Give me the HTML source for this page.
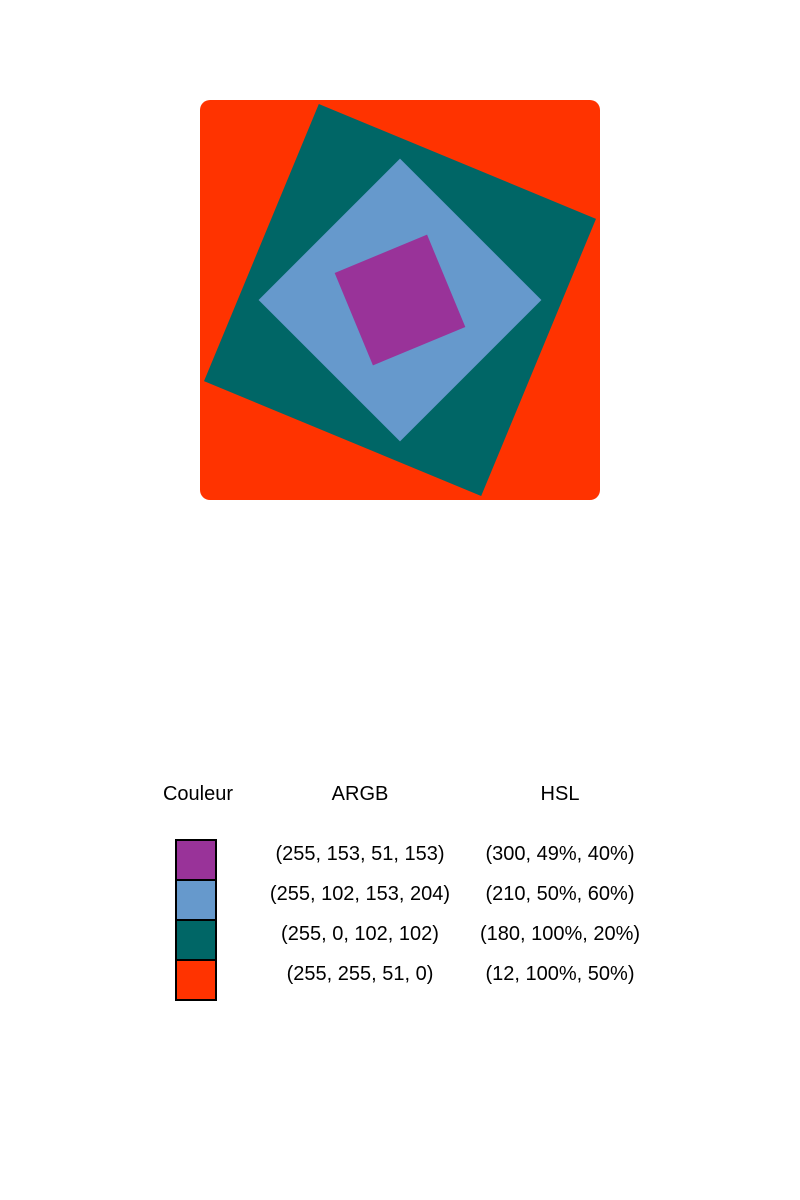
<!DOCTYPE html>
<html>
<head>
<meta charset="utf-8">
<style>
html,body{margin:0;padding:0;background:#fff;}
svg{display:block;}
text{font-family:"Liberation Sans",Arial,sans-serif;font-size:20px;fill:#000;}
</style>
</head>
<body>
<svg id="chart" width="800" height="1200" viewBox="0 0 800 1200">
  <rect x="200" y="100" width="400" height="400" rx="10" ry="10" fill="#FF3300"/>
  <g id="squares"></g>
  <g id="table">
    <text x="198" y="800" text-anchor="middle">Couleur</text>
    <text x="360" y="800" text-anchor="middle">ARGB</text>
    <text x="560" y="800" text-anchor="middle">HSL</text>
  </g>
</svg>
<script>
const colorNames = ["purple", "blue", "teal", "red"];
const fills = ["#993399", "#6699CC", "#006666", "#FF3300"];
const argbLabels = ["(255, 153, 51, 153)", "(255, 102, 153, 204)", "(255, 0, 102, 102)", "(255, 255, 51, 0)"];
const hslLabels = ["(300, 49%, 40%)", "(210, 50%, 60%)", "(180, 100%, 20%)", "(12, 100%, 50%)"];
const squareSides = [300, 200, 100];
const squareAngles = [22.5, 45, -22.5];
const squareFills = ["#006666", "#6699CC", "#993399"];

const NS = "http://www.w3.org/2000/svg";
const sq = document.getElementById("squares");
const cx = 400, cy = 300;
for (let i = 0; i < squareSides.length; i++) {
  const s = squareSides[i];
  const r = document.createElementNS(NS, "rect");
  r.setAttribute("x", cx - s / 2);
  r.setAttribute("y", cy - s / 2);
  r.setAttribute("width", s);
  r.setAttribute("height", s);
  r.setAttribute("fill", squareFills[i]);
  r.setAttribute("transform", "rotate(" + squareAngles[i] + " " + cx + " " + cy + ")");
  
  
  sq.appendChild(r);
}

const tb = document.getElementById("table");
for (let i = 0; i < colorNames.length; i++) {
  const y = 840 + i * 40;
  const sw = document.createElementNS(NS, "rect");
  sw.setAttribute("x", 176);
  sw.setAttribute("y", y);
  sw.setAttribute("width", 40);
  sw.setAttribute("height", 40);
  sw.setAttribute("fill", fills[i]);
  sw.setAttribute("stroke", "#000");
  sw.setAttribute("stroke-width", "2");
  
  
  tb.appendChild(sw);
  const t1 = document.createElementNS(NS, "text");
  t1.setAttribute("x", 360);
  t1.setAttribute("y", y + 20);
  t1.setAttribute("text-anchor", "middle");
  t1.textContent = argbLabels[i];
  
  
  tb.appendChild(t1);
  const t2 = document.createElementNS(NS, "text");
  t2.setAttribute("x", 560);
  t2.setAttribute("y", y + 20);
  t2.setAttribute("text-anchor", "middle");
  t2.textContent = hslLabels[i];
  
  
  tb.appendChild(t2);
}
</script>
</body>
</html>
